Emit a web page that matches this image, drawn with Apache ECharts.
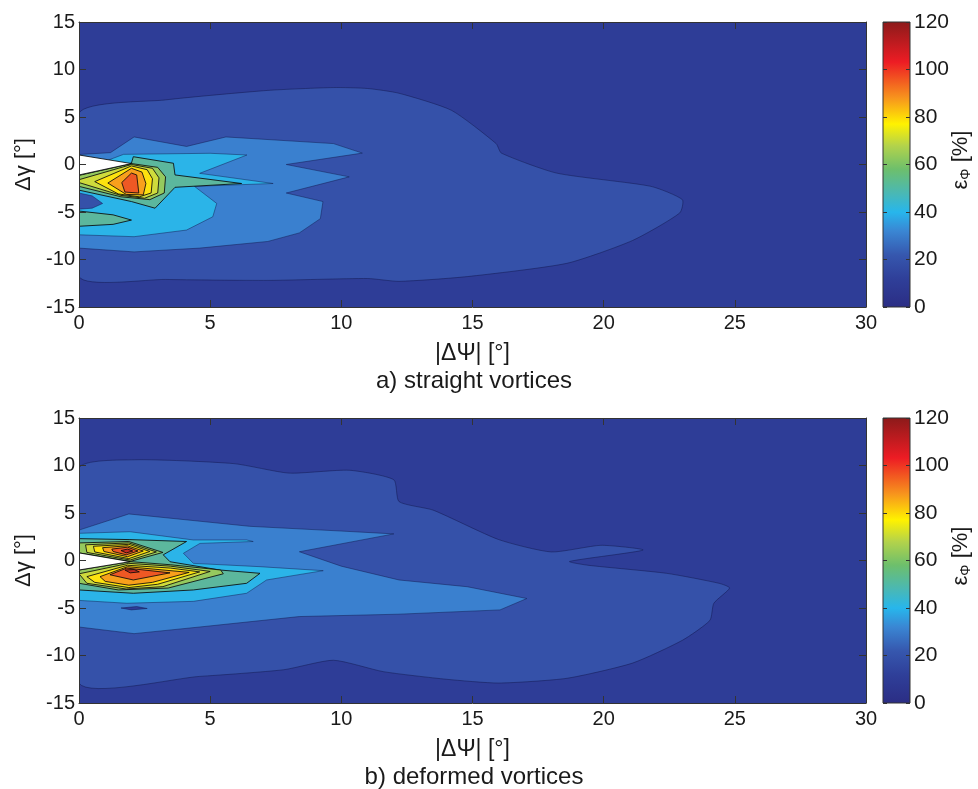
<!DOCTYPE html>
<html>
<head>
<meta charset="utf-8">
<script src="https://cdn.jsdelivr.net/npm/echarts/dist/echarts.min.js"></script>
<style>
html,body{margin:0;padding:0;background:#fff;}
#chart{width:978px;height:789px;}
</style>
</head>
<body>
<div id="chart"></div>
<script>
// Axis ticks
const xTicks = [0, 5, 10, 15, 20, 25, 30];
const yTicks = [-15, -10, -5, 0, 5, 10, 15];
const cbTicks = [0, 20, 40, 60, 80, 100, 120];

// Filled-contour band levels and their colours (jet-like map)
const bandLevels = [10, 20, 30, 40, 50, 60, 70, 80, 90, 100, 110];
const bandColors = ['#2e3d97', '#3551a9', '#3a80cf', '#2bb4e8', '#5cb79d', '#95c95e',
                    '#cfdb3c', '#fde20f', '#f8a01c', '#ee5824', '#c32a20'];

// Colour bar gradient (value -> colour)
const cmapValues = [0, 12, 22, 32, 40, 48, 58, 68, 77, 88, 103, 120];
const cmapColors = ['#2b2d84', '#2f3f99', '#3657ae', '#3a86d3', '#27b6ec', '#4ab8b4',
                    '#6dbf6c', '#b4d34a', '#fff200', '#f7941d', '#ed1c24', '#8b1a1a'];

// a) straight vortices: contour regions, painted in order (null = no data)
const topLevels = [10, 20, 30, 40, 20, 50, 50, 60, 70, 80, 90, 100, null];
const topPaths = [
  [[0,-15],[30,-15],[30,15],[0,15]],
  [[0,5.4],[3.3,6.8],[7.2,7.8],[9.7,8.1],[11,8.0],[12.2,7.5],[14.2,5.7],[15.9,2.2],[16.1,1.2],[18.2,-0.9],[21.8,-2.3],[23.0,-3.7],[22.9,-5.1],[21.1,-8.0],[18.6,-10.4],[14.8,-11.8],[12.2,-12.3],[11,-12.0],[7.2,-12.2],[3.3,-12.1],[0,-11.8]],
  [[0,1.05],[1.2,1.25],[2.1,2.9],[4.1,1.9],[5.6,2.9],[9.7,2.2],[10.8,1.2],[7.9,0.0],[10.3,-1.3],[7.9,-3.0],[9.3,-3.9],[9.2,-5.7],[8.4,-7.2],[7.2,-8.1],[4.6,-8.8],[2.1,-9.2],[0,-8.8]],
  [[0,-0.8],[1.2,0.55],[1.7,1.07],[5.0,1.18],[6.4,1.0],[4.6,-0.93],[7.4,-2.0],[4.4,-2.3],[5.25,-4.1],[5.1,-5.5],[4.1,-6.9],[2.1,-7.6],[0,-7.4]],
  [[0,-3.0],[0.5,-3.3],[0.9,-4.1],[0.5,-4.6],[0,-4.7]],
  [[0,-4.9],[1.3,-5.3],[2.0,-5.85],[1.3,-6.3],[0,-6.5]],
  [[0,-1.0],[2.0,0.15],[2.07,0.82],[3.6,0.13],[3.66,-1.1],[6.2,-2.0],[3.66,-2.4],[2.9,-4.6],[2.0,-3.9],[0,-2.7]],
  [[0,-1.15],[2.0,0.1],[3.0,-0.3],[3.3,-1.3],[3.25,-3.0],[2.7,-3.7],[1.6,-3.4],[0,-2.3]],
  [[0,-1.6],[2.0,0.0],[2.8,-0.4],[3.05,-1.4],[3.0,-3.0],[2.5,-3.55],[1.6,-3.25],[0,-1.9]],
  [[0.6,-1.8],[2.0,-0.15],[2.6,-0.55],[2.8,-1.5],[2.75,-3.0],[2.3,-3.4],[1.5,-3.1]],
  [[1.1,-1.95],[2.0,-0.4],[2.4,-0.8],[2.55,-2.0],[2.45,-3.2],[1.8,-3.15]],
  [[1.63,-1.9],[2.0,-0.9],[2.2,-1.1],[2.28,-3.0],[1.75,-2.9]],
  [[0,1.0],[2.0,0.1],[0,-1.1]]
];

// b) deformed vortices: contour regions, painted in order (null = no data)
const botLevels = [10, 20, 30, 10, 40, 50, 60, 70, 80, 90, 100, 110, 60, 70, 80, 90, 100, 110, null];
const botPaths = [
  [[0,-15],[30,-15],[30,15],[0,15]],
  [[0,9.7],[2.1,10.6],[5.9,10.2],[8.0,9.2],[10.3,9.5],[12.0,8.5],[12.2,6.2],[13.5,5.3],[16.0,2.2],[18.0,0.9],[19.9,1.6],[21.5,1.1],[18.7,-0.1],[19.4,-0.5],[22.4,-1.35],[24.4,-2.4],[24.8,-2.9],[24.2,-4.5],[24.05,-6.3],[23.0,-8.4],[21.1,-10.8],[18.6,-12.4],[16.0,-12.9],[14.0,-12.5],[11.6,-11.7],[9.7,-10.5],[7.8,-11.5],[4.6,-12.2],[0,-12.9]],
  [[0,3.2],[1.9,4.9],[6.5,3.6],[10.0,3.1],[12.0,2.8],[8.4,0.92],[10.0,-0.6],[12.2,-2.05],[14.8,-2.76],[17.07,-4.0],[16.05,-5.2],[12.2,-5.65],[8.4,-5.9],[4.6,-7.0],[2.1,-7.7],[0,-7.0]],
  [[1.6,-5.0],[2.2,-4.85],[2.6,-5.05],[2.0,-5.2]],
  [[0,2.86],[1.94,3.03],[4.36,2.16],[6.39,2.16],[6.64,2.0],[4.61,1.8],[3.98,0.76],[4.36,-0.3],[6.9,-0.65],[9.31,-1.07],[7.15,-2.05],[6.39,-3.45],[4.36,-4.3],[1.82,-4.5],[0,-4.2]],
  [[0,2.3],[1.94,2.2],[4.1,2.0],[3.21,0.6],[3.47,-0.13],[5.37,-1.0],[6.9,-1.35],[6.39,-2.4],[4.36,-3.1],[2.07,-3.45],[0,-3.1]],
  [[0,0.8],[0,1.85],[1.9,2.0],[3.2,0.85],[1.95,-0.1]],
  [[0.25,1.65],[1.9,1.85],[2.95,0.9],[1.95,0.05],[0.3,0.85]],
  [[0.55,1.5],[1.9,1.7],[2.7,0.95],[1.9,0.2],[0.6,0.9]],
  [[0.9,1.35],[1.85,1.55],[2.45,1.0],[1.85,0.4],[0.95,0.95]],
  [[1.25,1.2],[1.85,1.4],[2.25,1.0],[1.8,0.6],[1.3,0.95]],
  [[1.6,1.05],[1.85,1.2],[2.05,1.0],[1.8,0.8]],
  [[0,-1.0],[1.95,-0.12],[3.5,-0.45],[5.4,-1.0],[5.5,-1.4],[3.4,-2.9],[1.5,-3.1],[0,-2.4]],
  [[0,-1.4],[1.9,-0.3],[3.5,-0.6],[5.0,-1.15],[3.2,-2.75],[1.8,-3.0],[0.3,-2.4]],
  [[0.3,-1.7],[1.85,-0.5],[3.5,-0.8],[4.6,-1.2],[3.0,-2.5],[1.9,-2.85],[0.6,-2.3]],
  [[0.8,-1.7],[1.85,-0.65],[4.2,-1.25],[2.8,-2.3],[1.9,-2.6],[1.0,-2.2]],
  [[1.18,-1.5],[1.82,-0.8],[3.47,-1.3],[2.07,-2.05]],
  [[1.75,-1.0],[2.1,-0.95],[2.3,-1.2],[1.95,-1.3]],
  [[0,0.8],[1.95,-0.12],[0,-1.0]]
];

const FONT = '"Liberation Sans", Arial, Helvetica, sans-serif';
const TXT = '#1a1a1a';

function levelColor(lv) {
  if (lv === null) return '#ffffff';
  return bandColors[bandLevels.indexOf(lv)];
}

function contourRenderer(paths, levels) {
  return function (params, api) {
    const i = params.dataIndex;
    const lv = levels[i];
    const pts = paths[i].map(p => api.coord(p));
    let stroke = 'rgba(15,20,70,0.45)', lw = 1, smooth = 0;
    if (i === 0) { stroke = null; lw = 0; }
    else if (lv === null) { stroke = 'rgba(0,0,0,0.8)'; lw = 1; }
    else if (lv >= 50) { stroke = 'rgba(10,10,10,0.85)'; lw = 1; }
    if (lv === 20 && paths[i].length > 10) smooth = 0.2;
    return {
      type: 'polygon',
      shape: { points: pts, smooth: smooth },
      style: { fill: levelColor(lv), stroke: stroke, lineWidth: lw }
    };
  };
}

function colorbarRenderer(params, api) {
  const p0 = api.coord([0, cbTicks[0]]);
  const p1 = api.coord([1, cbTicks[cbTicks.length - 1]]);
  const span = cmapValues[cmapValues.length - 1] - cmapValues[0];
  const stops = cmapValues.map((v, k) => ({ offset: (v - cmapValues[0]) / span, color: cmapColors[k] }));
  return {
    type: 'rect',
    shape: { x: p0[0], y: p1[1], width: p1[0] - p0[0], height: p0[1] - p1[1] },
    style: {
      fill: new echarts.graphic.LinearGradient(0, 1, 0, 0, stops),
      stroke: '#333', lineWidth: 1
    }
  };
}

const plotW = 787, plotH = 285, plotL = 79;
const tops = [22, 418];
const cbL = 883, cbW = 27;

const grids = [
  { left: plotL, top: tops[0], width: plotW, height: plotH },
  { left: plotL, top: tops[1], width: plotW, height: plotH },
  { left: cbL, top: tops[0], width: cbW, height: plotH },
  { left: cbL, top: tops[1], width: cbW, height: plotH }
];

const tickStyle = { show: true, inside: true, length: 7, lineStyle: { color: '#333', width: 1 } };
const lineStyle = { show: true, onZero: false, lineStyle: { color: '#333', width: 1 } };

function mainX(gi, pos, withLabels) {
  return {
    type: 'value', gridIndex: gi, position: pos, z: 10,
    min: xTicks[0], max: xTicks[xTicks.length - 1], interval: xTicks[1] - xTicks[0],
    axisLine: lineStyle, axisTick: tickStyle, splitLine: { show: false },
    axisLabel: withLabels ? { show: true, fontFamily: FONT, fontSize: 20, color: TXT, margin: 6 } : { show: false },
    name: withLabels ? '|ΔΨ| [°]' : '', nameLocation: 'middle', nameGap: 35,
    nameTextStyle: { fontFamily: FONT, fontSize: 23, color: TXT }
  };
}
function mainY(gi, pos, withLabels) {
  return {
    type: 'value', gridIndex: gi, position: pos, z: 10,
    min: yTicks[0], max: yTicks[yTicks.length - 1], interval: yTicks[1] - yTicks[0],
    axisLine: lineStyle, axisTick: tickStyle, splitLine: { show: false },
    axisLabel: withLabels ? { show: true, fontFamily: FONT, fontSize: 20, color: TXT, margin: 4 } : { show: false },
    name: withLabels ? 'Δγ [°]' : '', nameLocation: 'middle', nameGap: 42, nameRotate: 90,
    nameTextStyle: { fontFamily: FONT, fontSize: 22, color: TXT }
  };
}
function cbX(gi) {
  return { type: 'value', gridIndex: gi, min: 0, max: 1, show: false };
}
function cbY(gi, pos, withLabels) {
  return {
    type: 'value', gridIndex: gi, position: pos, z: 10,
    min: cbTicks[0], max: cbTicks[cbTicks.length - 1], interval: cbTicks[1] - cbTicks[0],
    axisLine: { show: false, onZero: false },
    axisTick: { show: true, inside: true, length: 4, lineStyle: { color: '#333', width: 1 } },
    splitLine: { show: false },
    axisLabel: withLabels ? { show: true, fontFamily: FONT, fontSize: 21, color: TXT, margin: 4 } : { show: false }
  };
}

const subtitleStyle = { fontFamily: FONT, fontSize: 24, fill: TXT, align: 'center', verticalAlign: 'middle' };
const cbLabelRich = {
  e: { fontFamily: FONT, fontSize: 22, lineHeight: 24, fill: TXT },
  s: { fontFamily: FONT, fontSize: 14, lineHeight: 24, verticalAlign: 'bottom', fill: TXT },
  n: { fontFamily: FONT, fontSize: 22, lineHeight: 24, fill: TXT }
};

const option = {
  animation: false,
  backgroundColor: '#ffffff',
  grid: grids,
  xAxis: [mainX(0, 'bottom', true), mainX(0, 'top', false), mainX(1, 'bottom', true), mainX(1, 'top', false), cbX(2), cbX(3)],
  yAxis: [mainY(0, 'left', true), mainY(0, 'right', false), mainY(1, 'left', true), mainY(1, 'right', false),
          cbY(2, 'right', true), cbY(2, 'left', false), cbY(3, 'right', true), cbY(3, 'left', false)],
  series: [
    { type: 'custom', xAxisIndex: 0, yAxisIndex: 0, clip: true, silent: true,
      data: topPaths.map(p => p[0]), renderItem: contourRenderer(topPaths, topLevels) },
    { type: 'custom', xAxisIndex: 2, yAxisIndex: 2, clip: true, silent: true,
      data: botPaths.map(p => p[0]), renderItem: contourRenderer(botPaths, botLevels) },
    { type: 'custom', xAxisIndex: 4, yAxisIndex: 4, silent: true,
      data: [[0, cbTicks[0]]], renderItem: colorbarRenderer },
    { type: 'custom', xAxisIndex: 5, yAxisIndex: 6, silent: true,
      data: [[0, cbTicks[0]]], renderItem: colorbarRenderer }
  ],
  graphic: [
    { type: 'text', x: 474, y: 381, style: Object.assign({ text: 'a) straight vortices' }, subtitleStyle) },
    { type: 'text', x: 474, y: 777, style: Object.assign({ text: 'b) deformed vortices' }, subtitleStyle) },
    { type: 'text', x: 961, y: 160, rotation: Math.PI / 2,
      style: { text: '{e|ε}{s|Φ}{n| [%]}', align: 'center', verticalAlign: 'middle', fill: TXT, rich: cbLabelRich } },
    { type: 'text', x: 961, y: 556, rotation: Math.PI / 2,
      style: { text: '{e|ε}{s|Φ}{n| [%]}', align: 'center', verticalAlign: 'middle', fill: TXT, rich: cbLabelRich } }
  ]
};

const chart = echarts.init(document.getElementById('chart'), null, { renderer: 'canvas' });
chart.setOption(option);
</script>
</body>
</html>
